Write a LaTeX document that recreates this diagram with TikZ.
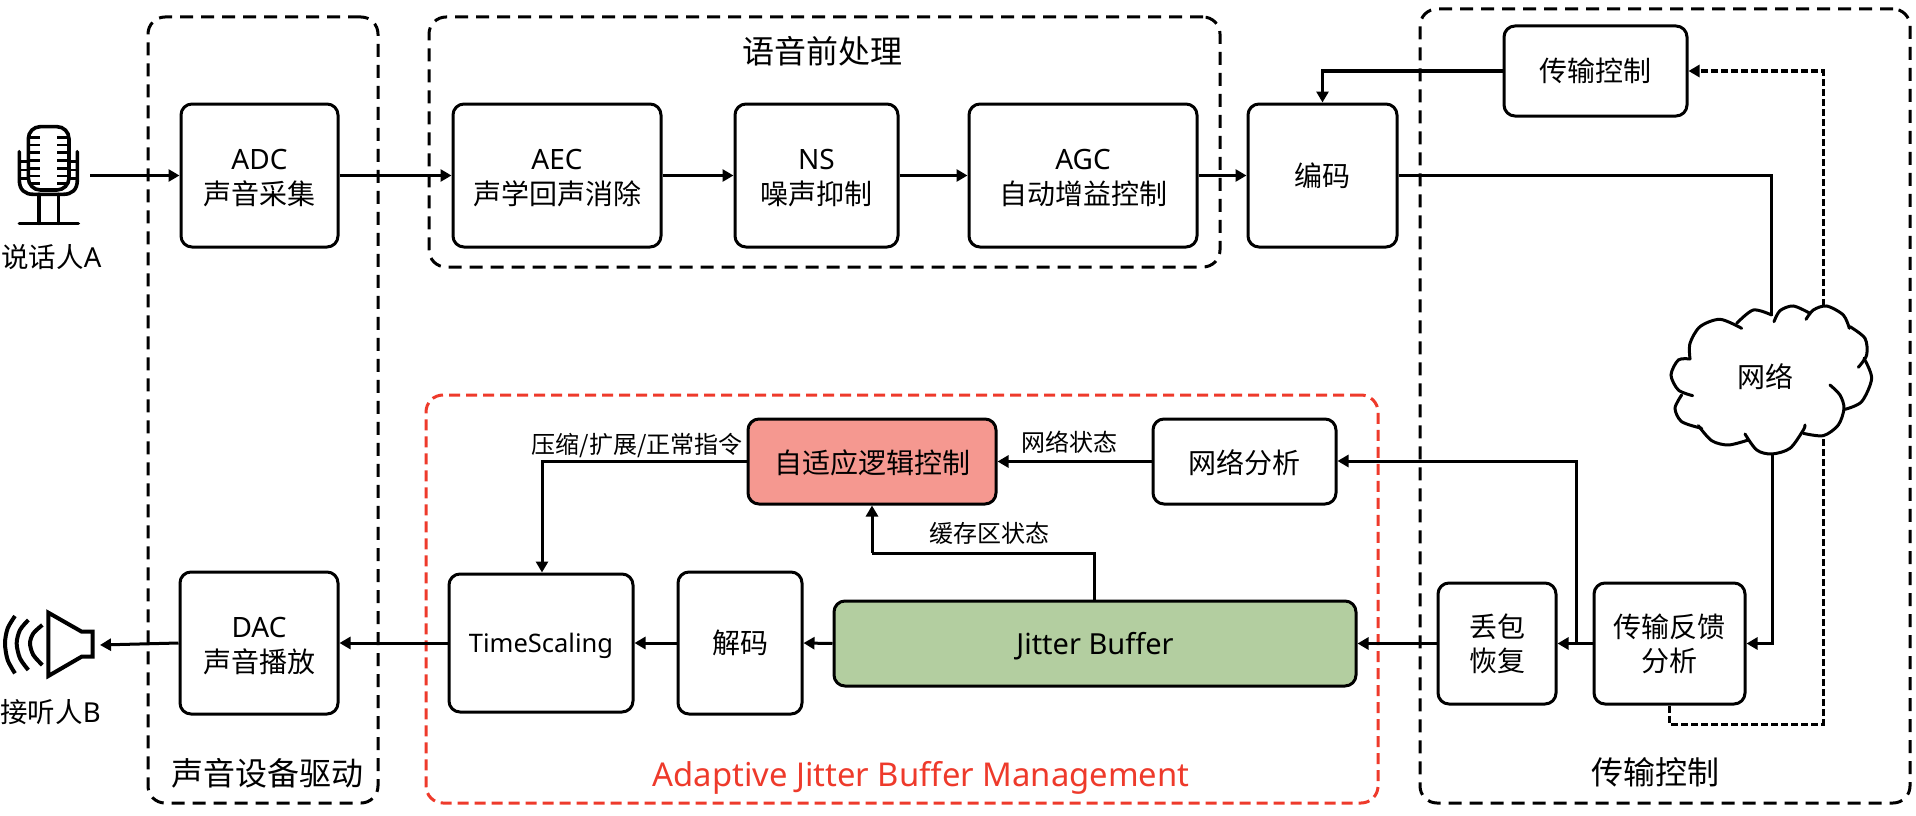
\documentclass[tikz,border=0pt]{standalone}
\usepackage{fontspec}
\setmainfont{Noto Sans}
\newfontfamily\cjk{Noto Sans CJK SC}
\usetikzlibrary{arrows.meta}
\definecolor{redline}{HTML}{EE3A2B}
\definecolor{salmon}{HTML}{F59890}
\definecolor{leaf}{HTML}{B3CEA0}
\newcommand{\fs}[2]{\fontsize{#1}{#2}\selectfont}
\newcommand{\lift}[1]{\rule{0pt}{#1pt}}
\tikzset{
  box/.style={draw=black,line width=3pt,rounded corners=11pt,inner sep=0pt,align=center,font=\fs{28}{35}},
  grp/.style={draw=black,line width=3pt,rounded corners=17pt,inner sep=0pt,dash pattern=on 13pt off 8pt},
  redgrp/.style={grp,draw=redline,dash pattern=on 11pt off 6pt},
  link/.style={line width=3pt,-{Triangle[length=11pt,width=12pt]}},
  plainlink/.style={line width=3pt},
  fblink/.style={line width=3pt,dash pattern=on 7pt off 3pt},
  lab/.style={inner sep=0pt,font=\fs{24}{28}},
  grpcap/.style={inner sep=0pt,font=\fs{32}{36}},
  icon/.style={line width=3.6pt,line cap=round},
}
\begin{document}
\begin{tikzpicture}[x=1pt,y=-1pt]
\useasboundingbox (0,0) rectangle (1916,816);
% groups
\node[grp,minimum width=230pt,minimum height=786pt] (gdrv) at (263,410) {};
\node[grp,minimum width=791pt,minimum height=250pt] (gpre) at (824.5,142) {};
\node[grp,minimum width=490pt,minimum height=794pt] (gtx) at (1665,406) {};
\node[redgrp,minimum width=952pt,minimum height=408pt] (gajb) at (902,599) {};
\node[grpcap] (tdrv) at (267,773) {\cjk 声音设备驱动};
\node[grpcap] (tpre) at (822,51) {\cjk 语音前处理};
\node[grpcap] (ttx) at (1655,772) {\cjk 传输控制};
\node[inner sep=0pt,text=redline,font=\fs{32.8}{38}] (tajb) at (921,778) {Adaptive Jitter Buffer Management};
% boxes
\node[box,minimum width=157pt,minimum height=143pt] (adc) at (259.5,175.5) {\lift{26}ADC\\\cjk 声音采集};
\node[box,minimum width=208pt,minimum height=143pt] (aec) at (557,175.5) {\lift{26}AEC\\\cjk 声学回声消除};
\node[box,minimum width=163pt,minimum height=143pt] (ns) at (816.5,175.5) {\lift{26}NS\\\cjk 噪声抑制};
\node[box,minimum width=228pt,minimum height=143pt] (agc) at (1083,175.5) {\lift{26}AGC\\\cjk 自动增益控制};
\node[box,minimum width=149pt,minimum height=143pt] (enc) at (1322.5,175.5) {\cjk 编码};
\node[box,minimum width=183pt,minimum height=90pt] (ctl) at (1595.5,71) {\cjk 传输控制};
\node[box,minimum width=248pt,minimum height=85pt,fill=salmon] (adp) at (872,461.5) {\cjk\lift{26}自适应逻辑控制};
\node[box,minimum width=183pt,minimum height=85pt] (nan) at (1244.5,461.5) {\cjk\lift{26}网络分析};
\node[box,minimum width=158pt,minimum height=142pt] (dac) at (259,643) {\lift{26}DAC\\\cjk 声音播放};
\node[box,minimum width=184pt,minimum height=138pt,font=\fs{25.5}{30}] (ts) at (541,643) {\lift{26}TimeScaling};
\node[box,minimum width=124pt,minimum height=142pt] (dec) at (740,643) {\cjk 解码};
\node[box,minimum width=522pt,minimum height=85pt,fill=leaf,font=\fs{29}{34}] (jb) at (1095,643.5) {\lift{28}Jitter Buffer};
\node[box,minimum width=118pt,minimum height=121pt,font=\fs{28}{34}] (plc) at (1497,643.5) {\cjk 丢包\\\cjk 恢复};
\node[box,minimum width=151pt,minimum height=121pt,font=\fs{28}{34}] (tfb) at (1669.5,643.5) {\cjk 传输反馈\\\cjk 分析};
% labels
\node[lab] (lcmd) at (637,446) {\cjk 压缩/扩展/正常指令};
\node[lab] (lnet) at (1069.5,442) {\cjk 网络状态};
\node[lab] (lbuf) at (989,533) {\cjk 缓存区状态};
\node[inner sep=0pt,font=\fs{27.5}{30}] (lspk) at (51.5,257) {\cjk 说话人\normalfont A};
\node[inner sep=0pt,font=\fs{27.5}{30}] (llis) at (50.5,712) {\cjk 接听人\normalfont B};
% free ends
\coordinate (mic) at (90,175.5);
\coordinate (spk) at (100,645);
\coordinate (cloudtop) at (1771,316);
\coordinate (cloudbot) at (1772,454);
\coordinate (c1) at (1322.5,71);
\coordinate (c2) at (1771,175.5);
\coordinate (c3) at (542,461.5);
\coordinate (c4) at (1576,643.5);
\coordinate (c5) at (1576,461);
\coordinate (c6) at (1094,553);
\coordinate (c7) at (872,553);
\coordinate (c8) at (1772,643.5);
\coordinate (d1) at (1669.5,724);
\coordinate (d2) at (1823,724);
\coordinate (d3) at (1823,71);
% connectors
\draw[link] (mic) -- (adc.west);
\draw[link] (adc.east) -- (aec.west);
\draw[link] (aec.east) -- (ns.west);
\draw[link] (ns.east) -- (agc.west);
\draw[link] (agc.east) -- (enc.west);
\draw[link] (ctl.west) -- (c1) -- (enc.north);
\draw[plainlink] (enc.east) -- (c2) -- (cloudtop);
\draw[link] (cloudbot) -- (c8) -- (tfb.east);
\draw[link] (tfb.west) -- (plc.east);
\draw[link] (c4) -- (c5) -- (nan.east |- c5);
\draw[link] (plc.west) -- (jb.east);
\draw[link] (nan.west) -- (adp.east);
\draw[plainlink] (jb.north -| c6) -- (c6) -- (c7);
\draw[link] (c7) -- (adp.south);
\draw[link] (adp.west) -- (c3) -- (c3 |- ts.north);
\draw[link] (jb.west) -- (dec.east);
\draw[link] (dec.west) -- (ts.east);
\draw[link] (ts.west) -- (dac.east);
\draw[link] (dac.west) -- (spk);
\draw[fblink,-{Triangle[length=11pt,width=12pt]}] (tfb.south) -- (d1) -- (d2) -- (d3) -- (ctl.east);
% cloud
\begin{scope}[shift={(1640,280)},x=0.3333pt,y=-0.3333pt,line width=3pt,line cap=round]
\fill[white] plot coordinates {(150,237) (115,240) (93,285) (115,330) (125,345) (105,385) (125,425) (175,437) (215,482) (265,495) (315,480) (350,510) (395,522) (450,505) (490,460) (550,467) (595,435) (615,388) (665,365) (695,295) (672,235) (680,225) (675,175) (628,145) (610,105) (560,78) (510,100) (460,78) (420,92) (400,108) (340,90) (295,125) (240,118) (180,140) (150,190)};
\draw plot[smooth] coordinates {(150,237) (115,240) (93,285) (115,330) (158,347)};
\draw plot[smooth] coordinates {(125,345) (105,385) (125,425) (185,445)};
\draw plot[smooth] coordinates {(175,437) (215,482) (265,495) (325,480)};
\draw plot[smooth] coordinates {(315,462) (350,510) (395,522) (450,505) (490,450) (495,435)};
\draw plot[smooth] coordinates {(490,460) (550,467) (595,435) (612,385) (600,345) (570,315)};
\draw plot[smooth] coordinates {(615,388) (665,365) (695,295) (672,235)};
\draw plot[smooth] coordinates {(655,262) (680,225) (675,175) (630,140)};
\draw plot[smooth] coordinates {(628,145) (610,105) (560,78) (520,90) (498,118)};
\draw plot[smooth] coordinates {(510,100) (460,78) (420,92) (402,125)};
\draw plot[smooth] coordinates {(395,105) (340,90) (290,130)};
\draw plot[smooth] coordinates {(305,145) (240,118) (180,140) (150,190) (150,237)};
\end{scope}
\node[inner sep=0pt,font=\fs{28}{32}] (net) at (1765,377) {\cjk 网络};
% microphone
\begin{scope}[shift={(0,100)},x=0.3333pt,y=-0.3333pt]
\draw[icon,rounded corners=12pt] (85,80) rectangle (207,270);
\foreach \yy in {112,135,158,182,205,228,250} {
  \draw[line width=2.8pt] (90,\yy) -- (120,\yy);
  \draw[line width=2.8pt] (172,\yy) -- (203,\yy);
}
\foreach \yy in {185,210,235} {
  \draw[line width=2.8pt] (58,\yy) -- (88,\yy);
  \draw[line width=2.8pt] (204,\yy) -- (232,\yy);
}
\draw[icon] (58,155) -- (58,240) .. controls (58,270) and (75,283) .. (100,283) -- (190,283) .. controls (215,283) and (232,270) .. (232,240) -- (232,155);
\draw[icon] (117,283) -- (117,370);
\draw[icon] (175,283) -- (175,370);
\draw[icon] (58,370) -- (235,370);
\end{scope}
% speaker
\begin{scope}[shift={(0,590)},x=0.3333pt,y=-0.3333pt]
\draw[line width=4pt,line join=miter] (145,68) -- (245,125) -- (278,125) -- (278,200) -- (245,200) -- (145,258) -- cycle;
\draw[line width=4pt] plot[smooth] coordinates {(127,105) (100,130) (90,160) (100,195) (127,225)};
\draw[line width=4pt] plot[smooth] coordinates {(85,90) (60,120) (50,160) (60,205) (85,240)};
\draw[line width=4pt] plot[smooth] coordinates {(45,78) (23,115) (15,160) (23,210) (45,250)};
\end{scope}
\end{tikzpicture}
\end{document}
